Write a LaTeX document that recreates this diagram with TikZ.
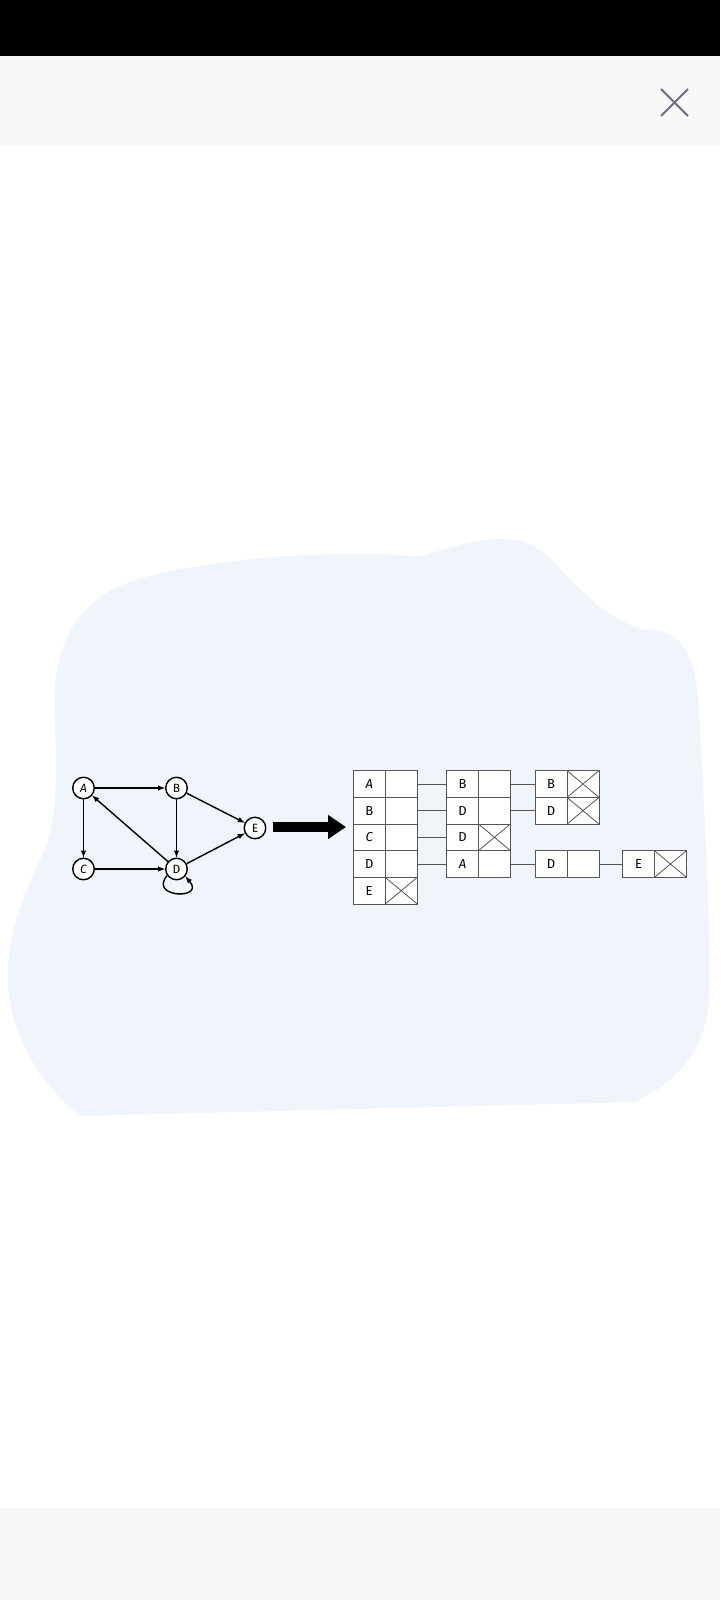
\documentclass[tikz,border=0pt]{standalone}
\usepackage{fontspec}
\setmainfont{Fira Sans}
\usetikzlibrary{arrows.meta}

\definecolor{blobBlue}{RGB}{240,245,252}
\definecolor{barGray}{RGB}{248,248,248}
\definecolor{closeGray}{RGB}{108,110,132}
\definecolor{cellLine}{RGB}{85,85,85}

\begin{document}
\begin{tikzpicture}[x=1pt, y=-1pt,
        vertex/.style={circle, draw=black, fill=white, line width=1.4pt, minimum size=21.5pt, inner sep=0pt, font=\fontsize{12}{12}\selectfont},
        keycell/.style={rectangle, draw=cellLine, fill=white, line width=0.8pt, minimum width=32pt, minimum height=26.7pt, inner sep=0pt, font=\fontsize{13}{13}\selectfont},
        nilcell/.style={keycell, path picture={\draw[cellLine, line width=0.8pt] (path picture bounding box.north west) -- (path picture bounding box.south east) (path picture bounding box.south west) -- (path picture bounding box.north east);}},
        graphedge/.style={-latex, line width=1.4pt},
        link/.style={draw=cellLine, line width=0.9pt},
    ]
        \useasboundingbox (0,0) rectangle (720,1600);

        %Screen
        \fill[black] (0,0) rectangle (720,56);
        \fill[barGray] (0,56) rectangle (720,146);
        \draw[closeGray, line width=2pt] (661,89) -- (688,116) (661,116) -- (688,89);
        \fill[barGray] (0,1508) rectangle (720,1600);

        %Blob
        \fill[blobBlue] (80,1116) .. controls (30,1075) and (5,1020) .. (8,968)
            .. controls (11,905) and (44,862) .. (50,832)
            .. controls (58,800) and (56,760) .. (55,720)
            .. controls (50,640) and (80,598) .. (135,580)
            .. controls (220,555) and (360,549) .. (420,557)
            .. controls (470,540) and (520,525) .. (552,560)
            .. controls (590,602) and (622,630) .. (655,630)
            .. controls (690,634) and (697,672) .. (699,712)
            .. controls (705,820) and (712,950) .. (709,1000)
            .. controls (705,1050) and (680,1080) .. (635,1102)
            -- cycle;

        %Graph nodes
        \node[vertex] (A) at (83.5,788) {\itshape A};
        \node[vertex] (B) at (176.5,788) {B};
        \node[vertex] (C) at (83.5,869) {\itshape C};
        \node[vertex] (D) at (176.5,869) {D};
        \node[vertex] (E) at (255,828) {E};

        %Graph edges
        \draw[graphedge] (A) -- (B);
        \draw[graphedge] (A) -- (C);
        \draw[graphedge] (B) -- (D);
        \draw[graphedge] (B) -- (E);
        \draw[graphedge] (C) -- (D);
        \draw[graphedge] (D) -- (A);
        \draw[graphedge] (D) -- (E);
        \draw[graphedge] (D.215) .. controls (148,898) and (206,900) .. (D.-40);

        %Big arrow
        \coordinate (bigTail) at (273,827);
        \coordinate (bigHead) at (346,827);
        \draw[line width=10pt, -{Triangle[length=18pt, width=23pt]}] (bigTail) -- (bigHead);

        %Head table
        \node[keycell] (headA) at (369.2,784) {\itshape A};
        \node[keycell] (headANext) at (401.2,784) {};
        \node[keycell] (headB) at (369.2,810.7) {B};
        \node[keycell] (headBNext) at (401.2,810.7) {};
        \node[keycell] (headC) at (369.2,837.3) {\itshape C};
        \node[keycell] (headCNext) at (401.2,837.3) {};
        \node[keycell] (headD) at (369.2,864) {D};
        \node[keycell] (headDNext) at (401.2,864) {};
        \node[keycell] (headE) at (369.2,890.7) {E};
        \node[nilcell] (headENext) at (401.2,890.7) {};

        %Lists
        \node[keycell] (listA1) at (462.5,784) {B};
        \node[keycell] (listA1Next) at (494.5,784) {};
        \node[keycell] (listB1) at (462.5,810.7) {D};
        \node[keycell] (listB1Next) at (494.5,810.7) {};
        \node[keycell] (listC1) at (462.5,837.3) {D};
        \node[nilcell] (listC1Next) at (494.5,837.3) {};
        \node[keycell] (listD1) at (462.5,864) {\itshape A};
        \node[keycell] (listD1Next) at (494.5,864) {};

        \node[keycell] (listA2) at (551,784) {B};
        \node[nilcell] (listA2Next) at (583,784) {};
        \node[keycell] (listB2) at (551,810.7) {D};
        \node[nilcell] (listB2Next) at (583,810.7) {};
        \node[keycell] (listD2) at (551,864) {D};
        \node[keycell] (listD2Next) at (583,864) {};
        \node[keycell] (listD3) at (638.5,864) {E};
        \node[nilcell] (listD3Next) at (670.5,864) {};

        %Links
        \draw[link] (headANext) -- (listA1);
        \draw[link] (headBNext) -- (listB1);
        \draw[link] (headCNext) -- (listC1);
        \draw[link] (headDNext) -- (listD1);

        \draw[link] (listA1Next) -- (listA2);
        \draw[link] (listB1Next) -- (listB2);
        \draw[link] (listD1Next) -- (listD2);
        \draw[link] (listD2Next) -- (listD3);
    \end{tikzpicture}
\end{document}
